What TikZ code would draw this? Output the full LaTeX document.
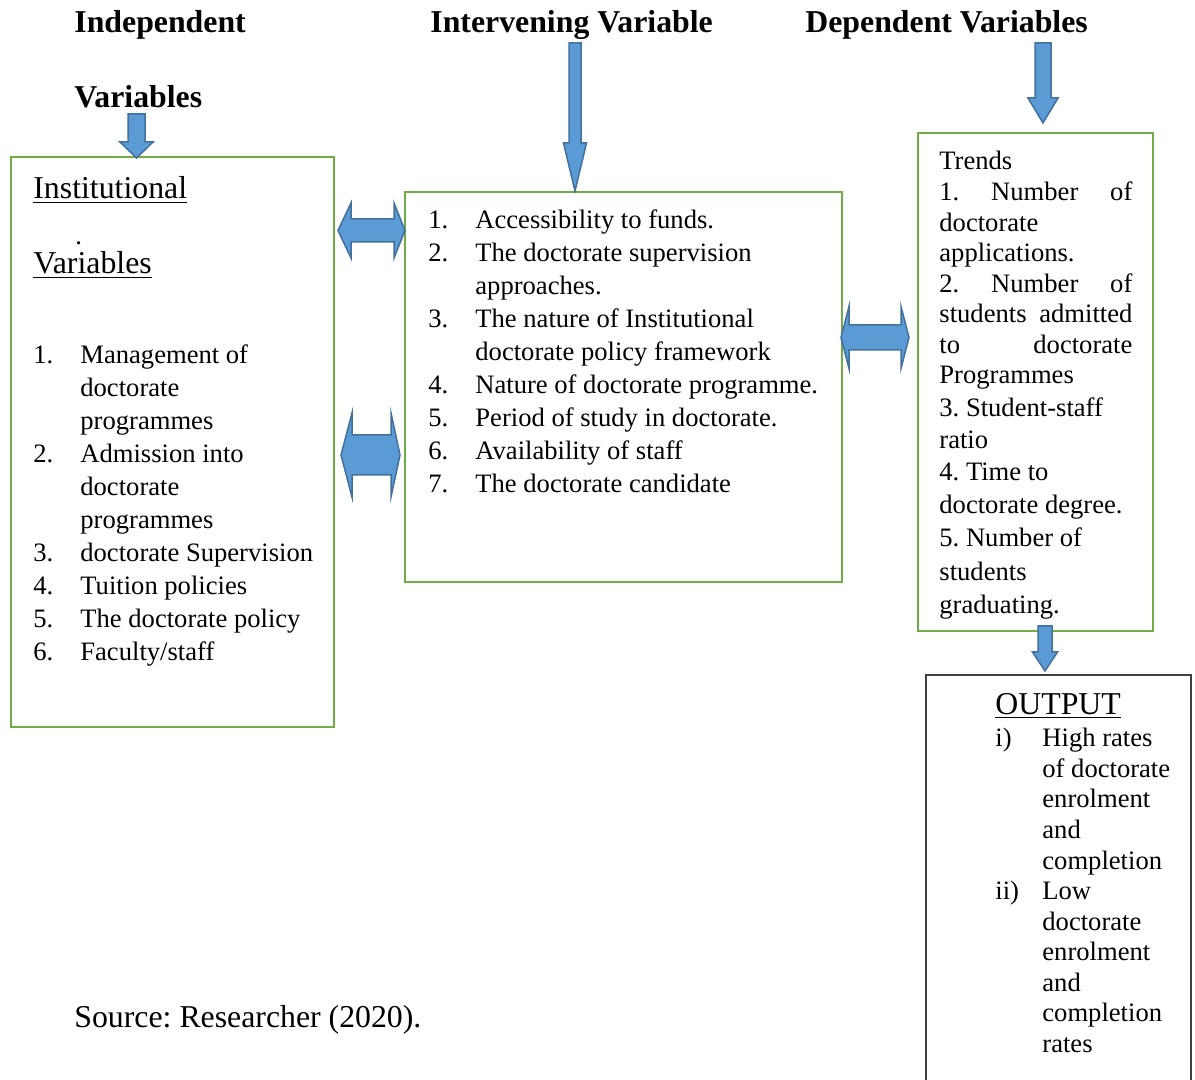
\documentclass[tikz,border=0pt]{standalone}
\usepackage{fontspec}
\setmainfont{Liberation Serif}
\usetikzlibrary{fit}
\frenchspacing
\definecolor{boxgreen}{HTML}{70AD47}
\definecolor{arrowfill}{HTML}{5B9BD5}
\definecolor{arrowline}{HTML}{41719C}
\definecolor{outline}{HTML}{404040}
\newcommand{\bodyfont}{\fontsize{13.3}{16}\selectfont}
\newcommand{\bigfont}{\fontsize{15.9}{19}\selectfont}
\newcommand{\jline}[1]{\makebox[96.5pt][s]{#1}}
% cx, half shaft, half head, top, head base, tip
\newcommand{\blockdown}[6]{\draw[blockarrow] ({#1-#2},#4) -- ({#1+#2},#4) -- ({#1+#2},#5) -- ({#1+#3},#5) -- (#1,#6) -- ({#1-#3},#5) -- ({#1-#2},#5) -- cycle;}
% x1, xb1, xb2, x2, cy, half head, half shaft
\newcommand{\blockboth}[7]{\draw[blockarrow] (#1,#5) -- (#2,{#5-#6}) -- (#2,{#5-#7}) -- (#3,{#5-#7}) -- (#3,{#5-#6}) -- (#4,#5) -- (#3,{#5+#6}) -- (#3,{#5+#7}) -- (#2,{#5+#7}) -- (#2,{#5+#6}) -- cycle;}
\begin{document}
\begin{tikzpicture}[x=0.5pt,y=-0.5pt,
  gbox/.style={draw=boxgreen, line width=1.25pt, inner sep=0pt},
  obox/.style={draw=outline, line width=0.75pt, inner sep=0pt},
  blockarrow/.style={fill=arrowfill, draw=arrowline, line width=0.75pt, line join=miter},
  txt/.style={anchor=base west, inner sep=0pt, font=\bodyfont},
  head/.style={anchor=base west, inner sep=0pt, font=\bigfont\bfseries},
  big/.style={anchor=base west, inner sep=0pt, font=\bigfont},
]
\clip (0,0) rectangle (1195,1080);
\fill[white] (0,0) rectangle (1195,1080);

% boxes
\node[gbox, fit={(11,157)(334,727)}] (L) {};
\node[gbox, fit={(405,192)(842,582)}] (M) {};
\node[gbox, fit={(918,133)(1153,631)}] (R) {};
\node[obox, fit={(926,675)(1191,1110)}] (O) {};

% headings
\node[head] (h1) at (74,33) {Independent};
\node[head] (h2) at (74,108) {Variables};
\node[head] (h3) at (430,33) {Intervening Variable};
\node[head] (h4) at (805,33) {Dependent Variables};

% arrows
\blockdown{136.5}{8.5}{16.5}{114}{142}{158}
\blockdown{575}{6}{11.5}{43}{143}{191}
\blockdown{1043}{8}{15}{43}{98}{123}
\blockdown{1045}{7}{12.5}{626}{652}{671}
\blockboth{338}{351}{394}{405}{230.5}{27.5}{11.5}
\blockboth{341}{352}{391}{400}{455}{42}{20}
\blockboth{841}{849}{901}{909}{337.5}{31}{12.5}

% left box
\node[big] (inst) at (33,199) {\underline{Institutional}};
\node[txt] (dot) at (75,245) {.};
\node[big] (var) at (33,274) {\underline{Variables}};
\foreach \y/\n [count=\i] in {364/1., 463/2., 562/3., 595/4., 628/5., 661/6.}
  \node[txt] (ln\i) at (33,\y) {\n};
\foreach \y/\t [count=\i] in {364/Management of, 397/doctorate, 430/programmes, 463/Admission into, 496/doctorate, 529/programmes, 562/doctorate Supervision, 595/Tuition policies, 628/The doctorate policy, 661/{Faculty/staff}}
  \node[txt] (lt\i) at (80,\y) {\t};

% middle box
\foreach \y/\n [count=\i] in {229/1., 262/2., 328/3., 394/4., 427/5., 460/6., 493/7.}
  \node[txt] (mn\i) at (428,\y) {\n};
\foreach \y/\t [count=\i] in {229/Accessibility to funds., 262/The doctorate supervision, 295/approaches., 328/The nature of Institutional, 361/doctorate policy framework, 394/Nature of doctorate programme., 427/Period of study in doctorate., 460/Availability of staff, 493/The doctorate candidate}
  \node[txt] (mt\i) at (475,\y) {\t};

% right box
\foreach \y/\t [count=\i] in {170/Trends, 201/{\jline{1. Number of}}, 232/doctorate, 262/applications., 293/{\jline{2. Number of}}, 323/{\jline{students admitted}}, 354/{\jline{to doctorate}}, 384/Programmes, 417/3. Student-staff, 449/ratio, 481/4. Time to, 514/doctorate degree., 547/5. Number of, 581/students, 614/graduating.}
  \node[txt] (rt\i) at (939,\y) {\t};

% output box
\node[big] (out) at (995,714) {\underline{OUTPUT}};
\node[txt] (on1) at (995,747) {i)};
\node[txt] (on2) at (995,899) {ii)};
\foreach \y/\t [count=\i] in {747/High rates, 777/of doctorate, 807/enrolment, 838/and, 869/completion, 899/Low, 930/doctorate, 960/enrolment, 991/and, 1021/completion, 1052/rates}
  \node[txt] (ot\i) at (1042,\y) {\t};

% source
\node[big] (src) at (74,1027) {Source: Researcher (2020).};
\end{tikzpicture}
\end{document}
